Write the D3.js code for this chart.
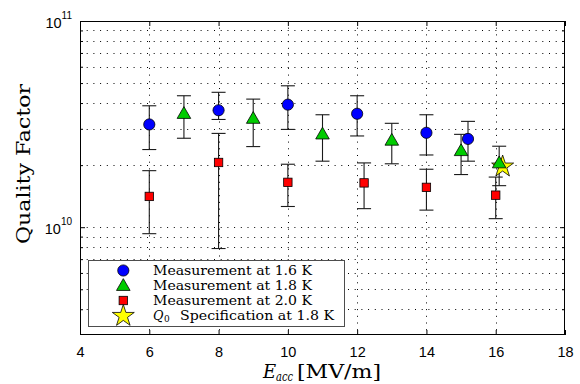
<!DOCTYPE html>
<html><head><meta charset="utf-8">
<script src="https://cdn.jsdelivr.net/npm/d3@7"></script>
<style>body{margin:0;background:#fff}svg{display:block}</style>
</head><body>
<svg id="c" width="580" height="384"></svg>
<script>
const xTicks = [4, 6, 8, 10, 12, 14, 16, 18];
const yMajor = [1e10, 1e11];
const yMajorLabels = [["10","10"], ["10","11"]];
const yMinor = [4e9,5e9,6e9,7e9,8e9,9e9,2e10,3e10,4e10,5e10,6e10,7e10,8e10,9e10];

const blueX  = [6, 8, 10, 12, 14, 15.2];
const blueQ  = [3.15e10, 3.69e10, 3.93e10, 3.55e10, 2.87e10, 2.68e10];
const blueLo = [2.38e10, 3.33e10, 2.98e10, 2.77e10, 2.24e10, 2.09e10];
const blueHi = [3.88e10, 4.51e10, 4.85e10, 4.34e10, 3.51e10, 3.26e10];

const greenX  = [7, 9, 11, 13, 15, 16.1];
const greenQ  = [3.56e10, 3.37e10, 2.83e10, 2.64e10, 2.35e10, 2.05e10];
const greenLo = [2.70e10, 2.46e10, 2.09e10, 2.03e10, 1.80e10, 1.59e10];
const greenHi = [4.34e10, 4.18e10, 3.51e10, 3.19e10, 2.82e10, 2.47e10];

const redX  = [6, 8, 10, 12.2, 14, 16];
const redQ  = [1.41e10, 2.06e10, 1.65e10, 1.64e10, 1.56e10, 1.43e10];
const redLo = [9.3e9, 7.88e9, 1.26e10, 1.23e10, 1.21e10, 1.10e10];
const redHi = [1.88e10, 2.85e10, 2.02e10, 2.05e10, 1.91e10, 1.75e10];

const specX = [16.2];
const specQ = [2e10];

const legendLabels = ["Measurement at 1.6 K", "Measurement at 1.8 K", "Measurement at 2.0 K", "Specification at 1.8 K"];

const L = 80, R = 565, T = 21, B = 335;
const x = d3.scaleLinear().domain([4, 18]).range([L, R]);
const y = d3.scaleLog().domain([3e9, 1e11]).range([B, T]);
const svg = d3.select("#c");
const serif = "'DejaVu Serif', 'Liberation Serif', serif";
const sans = "'Liberation Sans', Arial, sans-serif";

// grid
const g = svg.append("g").attr("stroke", "#000").attr("stroke-width", 1).attr("stroke-dasharray", "1,5.7").attr("fill", "none");
xTicks.slice(1, -1).forEach(t => g.append("line").attr("x1", Math.round(x(t))+0.5).attr("x2", Math.round(x(t))+0.5).attr("y1", T).attr("y2", B));
yMinor.concat([1e10]).forEach(v => g.append("line").attr("x1", L).attr("x2", R).attr("y1", Math.round(y(v))+0.5).attr("y2", Math.round(y(v))+0.5));

// axes via d3
const axB = d3.axisBottom(x).tickValues(xTicks).tickSize(-5).tickPadding(12).tickFormat(d3.format("d"));
const gx = svg.append("g").attr("transform", `translate(0,${B})`).call(axB);
gx.select(".domain").remove();
gx.selectAll("text").attr("font-family", sans).attr("font-size", 14.5).attr("fill", "#000");
const axT = d3.axisTop(x).tickValues(xTicks).tickSize(-5).tickFormat("");
const gt = svg.append("g").attr("transform", `translate(0,${T})`).call(axT);
gt.select(".domain").remove();

[[d3.axisLeft, L], [d3.axisRight, R]].forEach(([ax, pos]) => {
  const ga = svg.append("g").attr("transform", `translate(${pos},0)`).call(ax(y).tickValues(yMajor).tickSize(-5).tickFormat(""));
  ga.select(".domain").remove();
  const gm = svg.append("g").attr("transform", `translate(${pos},0)`).call(ax(y).tickValues(yMinor).tickSize(-3).tickFormat(""));
  gm.select(".domain").remove();
});

// y tick labels
yMajor.forEach((v, i) => {
  const t = svg.append("text").attr("x", 72).attr("y", y(v) + 6.5).attr("text-anchor", "end")
    .attr("font-family", sans).attr("font-size", 14.5).attr("fill", "#000");
  t.append("tspan").text(yMajorLabels[i][0]);
  t.append("tspan").attr("dy", -8.5).attr("font-size", 10).text(yMajorLabels[i][1]);
});

// frame
svg.append("rect").attr("x", L + 0.5).attr("y", T + 0.5).attr("width", R - L - 1).attr("height", B - T - 1)
  .attr("fill", "none").attr("stroke", "#000").attr("stroke-width", 1);

// error bars
function errbars(X, Lo, Hi) {
  const eg = svg.append("g").attr("stroke", "#1a1a1a").attr("stroke-width", 1.1);
  X.forEach((xv, i) => {
    const cx = x(xv);
    eg.append("line").attr("x1", cx).attr("x2", cx).attr("y1", y(Lo[i])).attr("y2", y(Hi[i]));
    eg.append("line").attr("x1", cx - 7).attr("x2", cx + 7).attr("y1", y(Lo[i])).attr("y2", y(Lo[i]));
    eg.append("line").attr("x1", cx - 7).attr("x2", cx + 7).attr("y1", y(Hi[i])).attr("y2", y(Hi[i]));
  });
}
errbars(blueX, blueLo, blueHi);
errbars(greenX, greenLo, greenHi);
errbars(redX, redLo, redHi);

const star = d3.symbol().type(d3.symbolStar).size(150);
const tri = d3.symbol().type(d3.symbolTriangle).size(80);
function circle(sel, cx, cy) { sel.append("circle").attr("cx", cx).attr("cy", cy).attr("r", 5.6).attr("fill", "#0000ff").attr("stroke", "#000").attr("stroke-width", 0.8); }
function triangle(sel, cx, cy) { sel.append("path").attr("d", tri()).attr("transform", `translate(${cx},${cy + 1})`).attr("fill", "#00cc00").attr("stroke", "#000").attr("stroke-width", 0.8); }
function square(sel, cx, cy) { sel.append("rect").attr("x", cx - 4.2).attr("y", cy - 4.2).attr("width", 8.4).attr("height", 8.4).attr("fill", "#ff0000").attr("stroke", "#000").attr("stroke-width", 0.8); }
function starM(sel, cx, cy) { sel.append("path").attr("d", star()).attr("transform", `translate(${cx},${cy + 1.5})`).attr("fill", "#ffff00").attr("stroke", "#000").attr("stroke-width", 0.8); }

const mg = svg.append("g");
blueX.forEach((v, i) => circle(mg, x(v), y(blueQ[i])));
specX.forEach((v, i) => starM(mg, x(v), y(specQ[i])));
greenX.forEach((v, i) => triangle(mg, x(v), y(greenQ[i])));
redX.forEach((v, i) => square(mg, x(v), y(redQ[i])));

// legend
const lg = svg.append("g");
lg.append("rect").attr("x", 88.5).attr("y", 260.5).attr("width", 256).attr("height", 66).attr("fill", "#fff").attr("stroke", "#4d4d4d").attr("stroke-width", 1);
const rows = [270.5, 285.5, 300.5, 315.5];
circle(lg, 123.3, rows[0]);
triangle(lg, 123.3, rows[1]);
square(lg, 123.3, rows[2]);
starM(lg, 123.3, rows[3] - 1);
const lfs = 12.8;
legendLabels.forEach((s, i) => {
  if (i < 3) {
    lg.append("text").attr("x", 153).attr("y", rows[i] + 4.5).attr("font-family", serif).attr("font-size", lfs).attr("fill", "#000")
      .attr("textLength", 159).attr("lengthAdjust", "spacingAndGlyphs").text(s);
  } else {
    lg.append("text").attr("x", 153).attr("y", rows[i] + 4.5).attr("font-family", serif).attr("font-size", lfs)
      .attr("font-style", "italic").attr("fill", "#000").text("Q");
    lg.append("text").attr("x", 164).attr("y", rows[i] + 6.5).attr("font-family", serif).attr("font-size", 9).attr("fill", "#000").text("0");
    lg.append("text").attr("x", 180).attr("y", rows[i] + 4.5).attr("font-family", serif).attr("font-size", lfs).attr("fill", "#000")
      .attr("textLength", 154).attr("lengthAdjust", "spacingAndGlyphs").text(s);
  }
});

// axis labels
const xbase = 378;
svg.append("text").attr("x", 263).attr("y", xbase).attr("font-family", serif).attr("font-size", 18).attr("font-style", "italic").attr("fill", "#000").text("E");
svg.append("text").attr("x", 276).attr("y", xbase + 2.5).attr("font-family", serif).attr("font-size", 12).attr("font-style", "italic").attr("fill", "#000")
  .attr("textLength", 17).attr("lengthAdjust", "spacingAndGlyphs").text("acc");
svg.append("text").attr("x", 297).attr("y", xbase).attr("font-family", serif).attr("font-size", 18).attr("fill", "#000")
  .attr("textLength", 84).attr("lengthAdjust", "spacingAndGlyphs").text("[MV/m]");

svg.append("text").attr("transform", "translate(30,164) rotate(-90)").attr("text-anchor", "middle")
  .attr("font-family", serif).attr("font-size", 19).attr("fill", "#000")
  .attr("textLength", 160).attr("lengthAdjust", "spacingAndGlyphs").text("Quality Factor");
</script>
</body></html>
